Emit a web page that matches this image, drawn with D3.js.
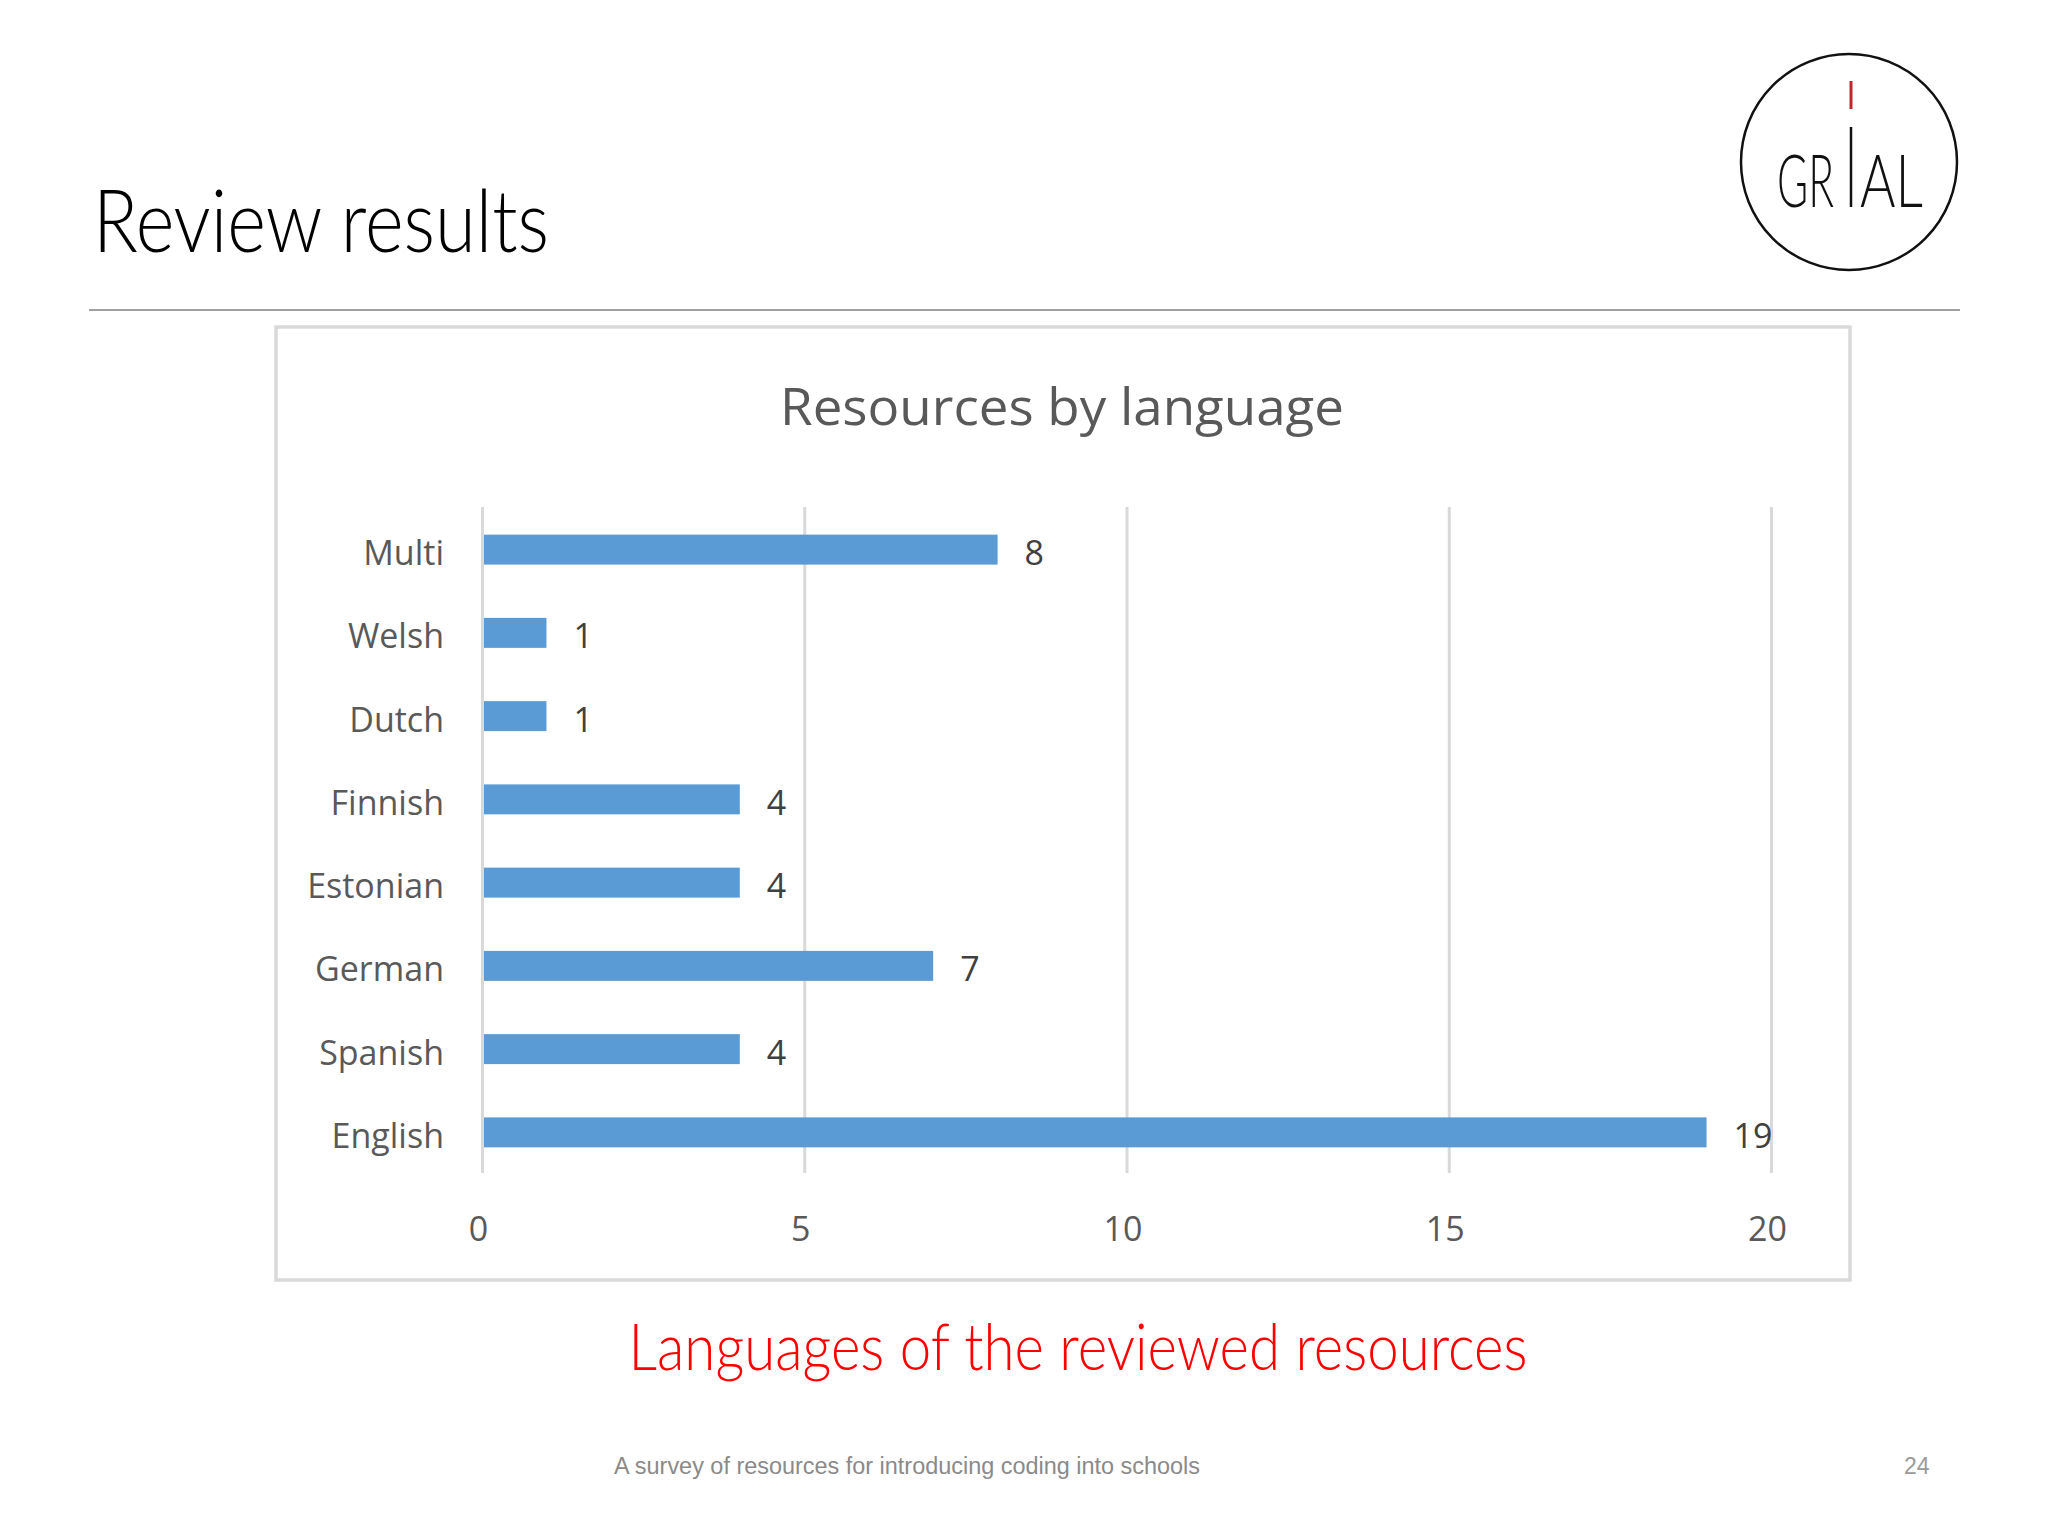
<!DOCTYPE html>
<html><head><meta charset="utf-8">
<script src="https://cdn.jsdelivr.net/npm/d3@7"></script>
<style>body{margin:0;background:#fff}</style>
</head><body>
<svg id="c" width="2048" height="1536" xmlns="http://www.w3.org/2000/svg"></svg>
<script>
const categories = ["Multi","Welsh","Dutch","Finnish","Estonian","German","Spanish","English"];
const values = [8,1,1,4,4,7,4,19];
const tickValues = [0,5,10,15,20];
const slideTitle = "Review results";
const chartTitle = "Resources by language";
const caption = "Languages of the reviewed resources";
const footer = "A survey of resources for introducing coding into schools";
const pageNumber = "24";

const svg = d3.select("#c");
svg.append("rect").attr("width",2048).attr("height",1536).attr("fill","#fff");

// Slide title
svg.append("text").text(slideTitle)
  .attr("x",93).attr("y",252)
  .attr("font-family","Lato").attr("font-weight",300)
  .attr("font-size",86).attr("fill","#000")
  .attr("textLength",456).attr("lengthAdjust","spacingAndGlyphs");

// rule
svg.append("line").attr("x1",89).attr("x2",1960).attr("y1",310).attr("y2",310)
  .attr("stroke","#a0a0a0").attr("stroke-width",2);

// logo
const logo = svg.append("g");
logo.append("circle").attr("cx",1849).attr("cy",162).attr("r",108)
  .attr("fill","none").attr("stroke","#111").attr("stroke-width",2.5);
logo.append("line").attr("x1",1851).attr("x2",1851).attr("y1",81).attr("y2",109)
  .attr("stroke","#c0272d").attr("stroke-width",3);
logo.append("line").attr("x1",1851).attr("x2",1851).attr("y1",127).attr("y2",207)
  .attr("stroke","#111").attr("stroke-width",2.5);
function logoText(str, x0, targetW) {
  const t = logo.append("text").text(str)
    .attr("font-family","Lato").attr("font-weight",300).attr("font-size",72).attr("fill","#111");
  const w = t.node().getComputedTextLength();
  t.attr("transform",`translate(${x0},207) scale(${targetW/w},1)`);
}
logoText("GR",1777,57);
logoText("AL",1860,63);

// chart box
svg.append("rect").attr("x",276).attr("y",327).attr("width",1574).attr("height",953)
  .attr("fill","#fff").attr("stroke","#d9d9d9").attr("stroke-width",3.5);

svg.append("text").text(chartTitle)
  .attr("x",1062).attr("y",425).attr("text-anchor","middle")
  .attr("font-family","Open Sans").attr("font-size",52).attr("fill","#595959")
  .attr("textLength",564).attr("lengthAdjust","spacingAndGlyphs");

const x = d3.scaleLinear().domain([0,20]).range([482,1771]);
const y = d3.scaleBand().domain(categories).range([507,1173]).padding(0);
const barH = y.bandwidth()*0.36;

// gridlines
const grid = svg.append("g").attr("transform","translate(0,1173)")
  .call(d3.axisBottom(x).tickValues(tickValues).tickSize(-(1173-507)).tickFormat(""));
grid.select(".domain").remove();
grid.selectAll("line").attr("stroke","#d9d9d9").attr("stroke-width",3);

// x tick labels
const xa = svg.append("g").attr("transform","translate(-4,1177)")
  .call(d3.axisBottom(x).tickValues(tickValues).tickSize(0).tickPadding(40));
xa.select(".domain").remove();
xa.selectAll("text").attr("font-family","Open Sans").attr("font-size",34).attr("fill","#595959");

// y labels
const ya = svg.append("g").attr("transform","translate(482,3)")
  .call(d3.axisLeft(y).tickSize(0).tickPadding(38));
ya.select(".domain").remove();
ya.selectAll("text").attr("font-family","Open Sans").attr("font-size",34).attr("fill","#595959")
  .attr("dy","0.4em");

// bars
svg.append("g").selectAll("rect").data(values).join("rect")
  .attr("x",x(0)+2).attr("y",(d,i)=>y(categories[i])+(y.bandwidth()-barH)/2+1)
  .attr("width",d=>x(d)-x(0)-2).attr("height",barH).attr("fill","#5b9bd5");

// value labels
svg.append("g").selectAll("text").data(values).join("text")
  .attr("x",d=>x(d)+27).attr("y",(d,i)=>y(categories[i])+y.bandwidth()/2+3)
  .attr("dy","0.4em").text(d=>d)
  .attr("font-family","Open Sans").attr("font-size",34).attr("fill","#404040");

// caption
svg.append("text").text(caption)
  .attr("x",1078).attr("y",1370).attr("text-anchor","middle")
  .attr("font-family","Lato").attr("font-weight",300).attr("font-size",66).attr("fill","#ff0000")
  .attr("textLength",899).attr("lengthAdjust","spacingAndGlyphs");

// footer
svg.append("text").text(footer)
  .attr("x",614).attr("y",1474)
  .attr("font-family","Liberation Sans").attr("font-size",23).attr("fill","#8a8a8a")
  .attr("textLength",586).attr("lengthAdjust","spacingAndGlyphs");
svg.append("text").text(pageNumber)
  .attr("x",1904).attr("y",1474)
  .attr("font-family","Liberation Sans").attr("font-size",23).attr("fill","#9a9a9a");
</script>
</body></html>
